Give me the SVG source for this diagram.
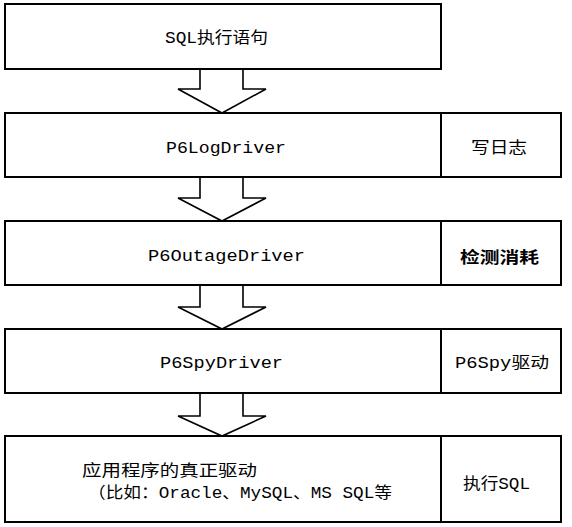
<svg xmlns="http://www.w3.org/2000/svg" width="572" height="527" viewBox="0 0 572 527">
<style>
.box{fill:#fff;stroke:#000;stroke-width:2}
.div{stroke:#000;stroke-width:2}
.arr{fill:none;stroke:#000;stroke-width:1.6;stroke-linejoin:miter}
text{font-family:"Liberation Mono","Noto Sans CJK SC",monospace;font-size:16px;fill:#000}
.b{font-weight:bold}
</style>
<rect width="572" height="527" fill="#fff"/>
<g id="connectors">
<polyline class="arr" points="200,69 200,89 178,89 222,113 266,89 243,89 243,69"/>
<polyline class="arr" points="200,177 200,198 178,198 222,221 266,198 243,198 243,177"/>
<polyline class="arr" points="200,285 200,307 178,307 222,329 266,307 243,307 243,285"/>
<polyline class="arr" points="200,393 200,416 178,416 222,436 266,416 243,416 243,393"/>
</g>
<g id="sql">
<rect class="box" x="5" y="4" width="436" height="65"/>
<text x="165" y="43" textLength="103" lengthAdjust="spacingAndGlyphs">SQL执行语句</text>
</g>
<g id="p6log">
<rect class="box" x="5" y="113" width="556" height="64"/>
<line class="div" x1="441" y1="113" x2="441" y2="177"/>
<text x="166" y="153" textLength="120" lengthAdjust="spacingAndGlyphs">P6LogDriver</text>
<text x="471" y="153" textLength="56" lengthAdjust="spacingAndGlyphs">写日志</text>
</g>
<g id="p6outage">
<rect class="box" x="5" y="221" width="556" height="64"/>
<line class="div" x1="441" y1="221" x2="441" y2="285"/>
<text x="148" y="261" textLength="157" lengthAdjust="spacingAndGlyphs">P6OutageDriver</text>
<text class="b" x="460" y="263" textLength="79" lengthAdjust="spacingAndGlyphs">检测消耗</text>
</g>
<g id="p6spy">
<rect class="box" x="5" y="329" width="556" height="64"/>
<line class="div" x1="441" y1="329" x2="441" y2="393"/>
<text x="160" y="368" textLength="123" lengthAdjust="spacingAndGlyphs">P6SpyDriver</text>
<text x="455" y="368" textLength="94" lengthAdjust="spacingAndGlyphs">P6Spy驱动</text>
</g>
<g id="realdriver">
<rect class="box" x="5" y="436" width="556" height="86"/>
<line class="div" x1="441" y1="436" x2="441" y2="522"/>
<text x="82" y="476" textLength="175" lengthAdjust="spacingAndGlyphs">应用程序的真正驱动</text>
<text x="88" y="498" textLength="304" lengthAdjust="spacingAndGlyphs">（比如：Oracle、MySQL、MS SQL等</text>
<text x="463" y="489" textLength="67" lengthAdjust="spacingAndGlyphs">执行SQL</text>
</g>
</svg>
